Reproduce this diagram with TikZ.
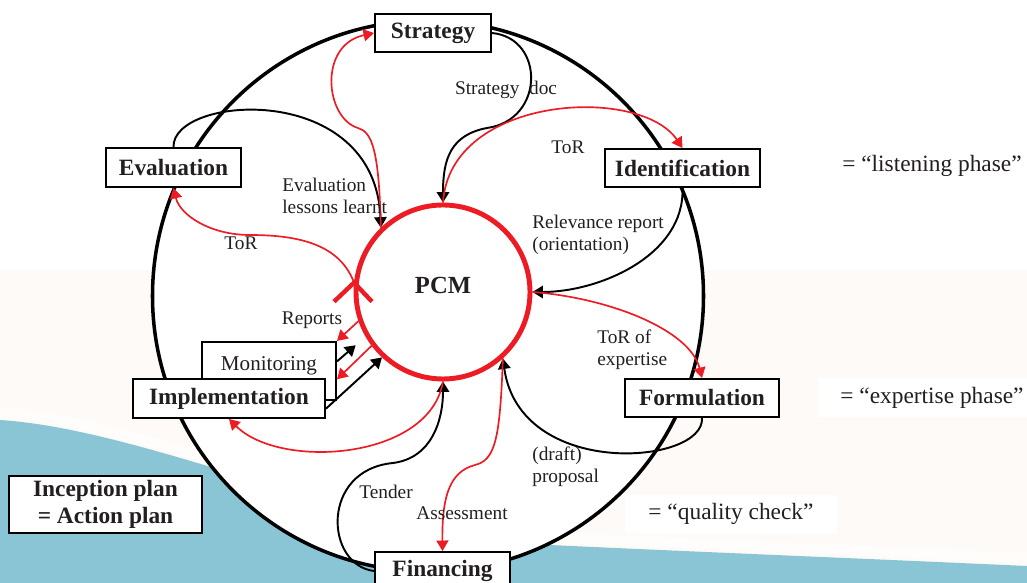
\documentclass[tikz,border=0pt]{standalone}
\usepackage{fontspec}
\setmainfont{Liberation Serif}
\usepackage{xcolor}
\usepackage{tikz}
\definecolor{pcmred}{RGB}{237, 28, 36}
\definecolor{inktext}{RGB}{35, 31, 32}
\definecolor{wavecyan}{RGB}{137, 197, 212}
\definecolor{paperpeach}{RGB}{253, 250, 247}
\usetikzlibrary{arrows.meta, positioning}

\begin{document}
\begin{tikzpicture}[
    x=0.2mm, y=-0.2mm,
    phasebox/.style={rectangle, draw=black, line width=1.1pt, fill=white, inner sep=0pt, minimum height=7.6mm, font=\fontsize{13.3}{15}\selectfont\bfseries, text=inktext},
    note/.style={font=\fontsize{11}{12.5}\selectfont, text=inktext, align=left, inner sep=0pt},
    remark/.style={font=\fontsize{13.3}{15}\selectfont, text=inktext, fill=white, inner sep=0pt, minimum height=7.7mm},
    arrow/.style={-{Triangle[length=2.1mm, width=2.5mm]}, line width=1.1pt},
    redarrow/.style={-{Triangle[length=2.1mm, width=2.4mm]}, pcmred, line width=0.95pt}
]
    \useasboundingbox (0,0) rectangle (1027,583);
    \clip (0,0) rectangle (1027,583);

    % Slide background
    \fill[paperpeach] (0,270) rectangle (1027,583);
    \fill[wavecyan] (0,420) .. controls (150,430) and (350,530) .. (550,545) .. controls (700,552) and (850,558) .. (1027,566) -- (1027,600) -- (0,600) -- cycle;
    \draw[white, line width=2mm, opacity=0.7] (0,412) .. controls (150,422) and (350,522) .. (550,537) .. controls (700,544) and (850,550) .. (1027,558);

    % Project cycle
    \node[circle, draw, line width=2pt, fill=white, minimum size=110.2mm, inner sep=0pt] (cycle) at (428,296) {};

    % Phases
    \node[phasebox, minimum width=23.2mm] (strategy) at (433,33) {Strategy};
    \node[phasebox, minimum width=31mm] (identification) at (682.5,168) {Identification};
    \node[phasebox, minimum width=30.8mm] (formulation) at (702,398) {Formulation};
    \node[phasebox, minimum width=27mm] (financing) at (442.5,571) {Financing};
    \node[phasebox, minimum width=27mm, minimum height=7.8mm] (evaluation) at (173.5,167.5) {Evaluation};
    \node[rectangle, draw, line width=1.1pt, fill=white, anchor=north, minimum width=26.8mm, inner sep=0pt, text height=5.8mm, text depth=5.8mm, font=\fontsize{12}{14}\selectfont, text=inktext] (monitoring) at (269,341) {Monitoring};
    \node[phasebox, minimum width=38.4mm, minimum height=7.8mm] (implementation) at (229,398.5) {Implementation};
    \node[phasebox, minimum width=38.6mm, minimum height=11.4mm, align=center, font=\fontsize{13.3}{15.4}\selectfont\bfseries] (inception) at (105.5,504.5) {Inception plan\\= Action plan};

    % PCM hub
    \node[circle, draw=pcmred, line width=2.8pt, minimum size=34.8mm, inner sep=0pt, text depth=2.8mm, font=\fontsize{14}{16}\selectfont\bfseries, text=inktext] (pcm) at (443,292) {PCM};

    % Side remarks
    \node[remark] (listening) at (932,166) {= “listening phase”};
    \node[remark, minimum width=45.6mm] (expertise) at (932,397.5) {= “expertise phase”};
    \node[remark, minimum width=42.4mm] (quality) at (731,514) {= “quality check”};

    % Outputs back to PCM
    \draw[arrow] (strategy.east) .. controls (545,38) and (545,120) .. (487,128) .. controls (450,135) and (443,160) .. (pcm.north);
    \draw[arrow] (evaluation.north) .. controls (172,95) and (375,80) .. (pcm.134);
    \draw[arrow] (identification.south) .. controls (685,255) and (600,292) .. (pcm.east);
    \draw[arrow] (formulation.south) .. controls (705,465) and (520,480) .. (pcm.-48);
    \draw[arrow] (financing.west) .. controls (325,565) and (320,470) .. (393,463) .. controls (432,458) and (443,420) .. (pcm.south);
    \draw[arrow, shorten >=2.6mm] (monitoring.8) -- (pcm.210);
    \draw[arrow] (implementation.-6) -- (pcm.227);

    % Requests from PCM
    \draw[redarrow] (pcm.134) .. controls (379,150) and (372,132) .. (358,128) .. controls (325,118) and (318,45) .. (strategy.west);
    \draw[redarrow] (pcm.north) .. controls (450,95) and (640,85) .. (identification.north);
    \draw[redarrow] (pcm.east) .. controls (610,298) and (690,330) .. (formulation.north);
    \draw[redarrow] (pcm.-48) .. controls (500,440) and (495,460) .. (475,465) .. controls (448,472) and (442,500) .. (financing.north);
    \draw[redarrow] (pcm.south) .. controls (430,460) and (280,470) .. (implementation.south);
    \draw[redarrow] (pcm.174) .. controls (340,245) and (300,235) .. (250,235) .. controls (210,235) and (180,215) .. (evaluation.south);
    \draw[redarrow] (pcm.199) -- (monitoring.north east);
    \draw[redarrow] (pcm.217) -- (monitoring.-7);
    \draw[pcmred, line width=2.5pt] (pcm.174) ++(-20,19) -- (pcm.174) -- ++(18,19);

    % Labels
    \node[note] (lblstratdoc) at (506,90) {Strategy\enspace doc};
    \node[note, anchor=west] (lbllessons) at (282,196) {Evaluation\\lessons learnt};
    \node[note] (lbltorident) at (568,147) {ToR};
    \node[note, anchor=west] (lblrelevance) at (532,235) {Relevance report\\(orientation)};
    \node[note] (lbltoreval) at (241,243) {ToR};
    \node[note] (lblreports) at (312,320) {Reports};
    \node[note, anchor=west] (lbltorexp) at (597,350) {ToR of\\expertise};
    \node[note, anchor=west] (lbldraft) at (532,467) {(draft)\\proposal};
    \node[note] (lbltender) at (386,492) {Tender};
    \node[note] (lblassess) at (462,513) {Assessment};
\end{tikzpicture}
\end{document}
